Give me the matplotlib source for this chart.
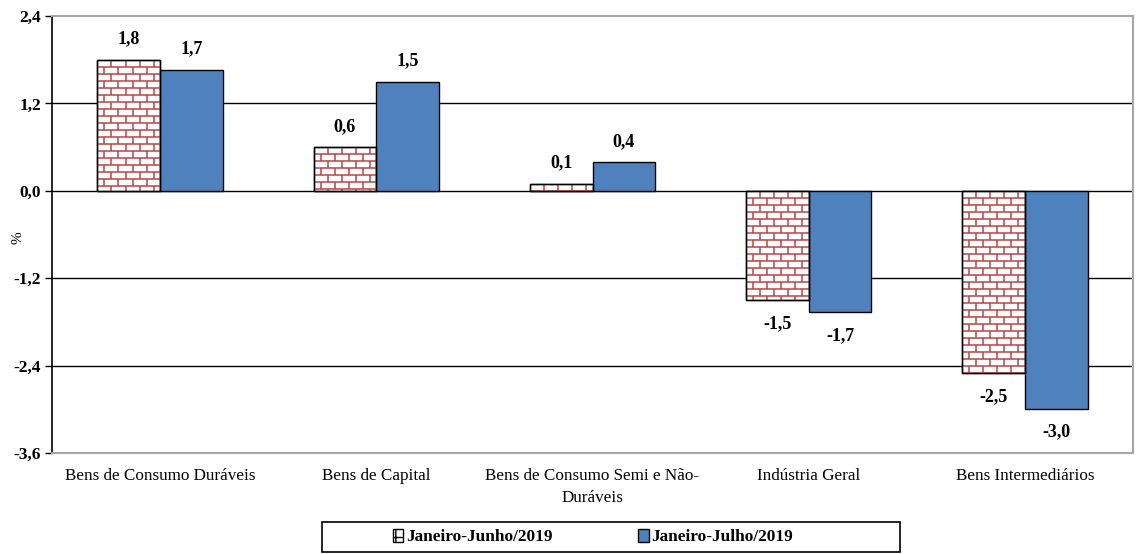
import matplotlib.pyplot as plt
from matplotlib.collections import LineCollection
from matplotlib.patches import Rectangle
import numpy as np

categorias = ["Bens de Consumo Duráveis", "Bens de Capital",
              "Bens de Consumo Semi e Não-\nDuráveis", "Indústria Geral",
              "Bens Intermediários"]
jan_jun = [1.8, 0.6, 0.1, -1.5, -2.5]
jan_jul = [1.66, 1.5, 0.39, -1.66, -2.99]
rotulo_jun = ["1,8", "0,6", "0,1", "-1,5", "-2,5"]
rotulo_jul = ["1,7", "1,5", "0,4", "-1,7", "-3,0"]
yticks = [2.4, 1.2, 0.0, -1.2, -2.4, -3.6]
ytick_labels = ["2,4", "1,2", "0,0", "-1,2", "-2,4", "-3,6"]
series = ["Janeiro-Junho/2019", "Janeiro-Julho/2019"]

plt.rcParams['font.family'] = ['Liberation Serif', 'DejaVu Serif']

BRICK = "#b84545"
BLUE = "#4f81bd"
plt.rcParams['hatch.color'] = BRICK

fig = plt.figure(figsize=(11.4, 5.54), dpi=100)
ax = fig.add_axes([52/1140, 1-453/554, (1133-52)/1140, (453-16)/554])

x = np.arange(len(categorias))
w = 0.29

for y in [1.2, 0.0, -1.2, -2.4]:
    ax.axhline(y, color="black", lw=1, zorder=1)

b1 = ax.bar(x - w/2, jan_jun, w, color="white", edgecolor="black", lw=1, zorder=2)
b2 = ax.bar(x + w/2, jan_jul, w, color=BLUE, edgecolor="black", lw=1, zorder=2)


def bricks(ax, bar, row=0.096, bw=0.065):
    x0, w0 = bar.get_x(), bar.get_width()
    y0 = bar.get_y()
    y1 = y0 + bar.get_height()
    lo, hi = min(y0, y1), max(y0, y1)
    segs = []
    k = 0
    yy = hi
    while yy > lo - row:
        segs.append([(x0, yy), (x0 + w0, yy)])
        off = 0 if k % 2 == 0 else bw / 2
        xx = x0 + off
        while xx < x0 + w0:
            segs.append([(xx, yy), (xx, yy - row)])
            xx += bw
        yy -= row
        k += 1
    lc = LineCollection(segs, colors=BRICK, linewidths=1.1, zorder=2.5)
    ax.add_collection(lc)
    lc.set_clip_path(bar)
    ax.add_patch(Rectangle((x0, y0), w0, y1 - y0, fill=False,
                           edgecolor="black", lw=1, zorder=3))


for b in b1:
    bricks(ax, b)

for bars, labs in [(b1, rotulo_jun), (b2, rotulo_jul)]:
    for b, lab in zip(bars, labs):
        h = b.get_height()
        off = 15 if h >= 0 else -17
        ax.annotate(lab, (b.get_x() + b.get_width()/2, h), xytext=(0, off),
                    textcoords="offset points", ha="center", va="center",
                    fontsize=13, fontweight="bold")

ax.set_xlim(-0.5, len(categorias) - 0.5)
ax.set_ylim(-3.6, 2.4)
ax.set_yticks(yticks)
ax.set_yticklabels(ytick_labels, fontsize=12.5, fontweight="bold")
ax.set_xticks(x)
ax.set_xticklabels(categorias, fontsize=12.3, linespacing=1.5)
ax.tick_params(axis="x", length=0, pad=11)
ax.tick_params(axis="y", length=5, width=1, pad=3)
fig.text(18/1140, 1-238/554, "%", rotation=90, ha="center", va="center",
         fontsize=11)

for s in ["top", "right", "bottom"]:
    ax.spines[s].set_color("#a6a6a6")
    ax.spines[s].set_linewidth(1.5)
ax.spines["left"].set_color("black")
ax.spines["left"].set_linewidth(1.2)

# legenda
fig.patches.append(Rectangle((322/1140, 1-552/554), 578/1140, 30/554,
                             transform=fig.transFigure, fill=False,
                             edgecolor="black", lw=1.2))
h1 = Rectangle((0, 0), 1, 1, facecolor="white", edgecolor="black", hatch="++")
h2 = Rectangle((0, 0), 1, 1, facecolor=BLUE, edgecolor="black")
leg = fig.legend([h1, h2], series, loc="center",
                 bbox_to_anchor=(593/1140, 1-537/554), ncol=2, frameon=False,
                 handlelength=0.6, handleheight=0.8, handletextpad=0.15,
                 columnspacing=5.0, prop={"size": 12.4, "weight": "bold"})

fig.savefig("out.png", dpi=100)
